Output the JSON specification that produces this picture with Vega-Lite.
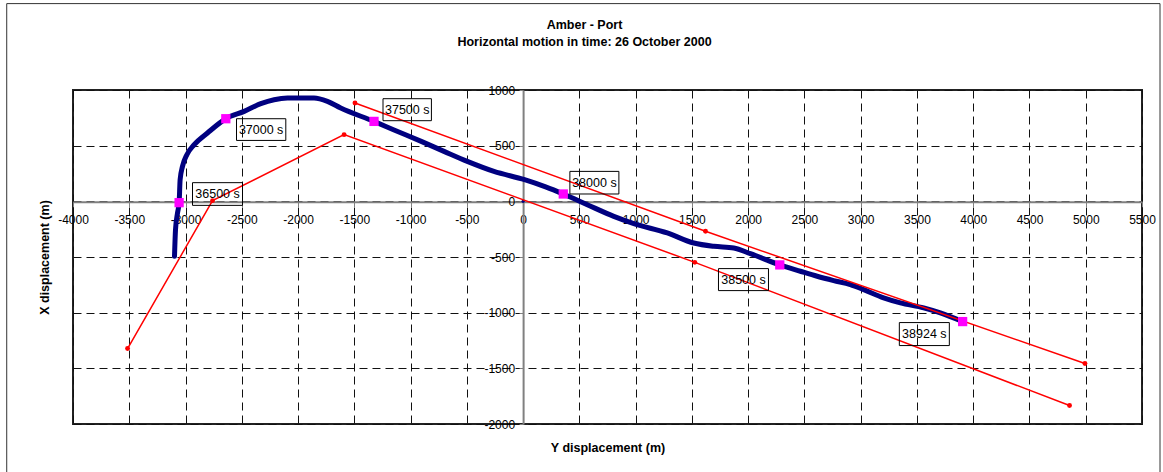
{
  "$schema": "https://vega.github.io/schema/vega-lite/v6.json",
  "width": 1069,
  "height": 334,
  "autosize": {"type": "none"},
  "padding": {"left": 73, "top": 90, "right": 21, "bottom": 48},
  "background": "white",
  "config": {
    "font": "Liberation Sans",
    "view": {"stroke": "#222", "strokeWidth": 2}
  },
  "title": {
    "text": ["Amber - Port", "Horizontal motion in time: 26 October 2000"],
    "font": "Liberation Sans",
    "fontSize": 12.5,
    "fontWeight": "bold",
    "color": "#000",
    "anchor": "middle",
    "frame": "group",
    "baseline": "bottom",
    "lineHeight": 16.5,
    "offset": -58,
    "dx": -23
  },
  "datasets": {
    "track": [
      {"i": 1, "x": -3098, "y": -494},
      {"i": 2, "x": -3089, "y": -254},
      {"i": 3, "x": -3071, "y": -104},
      {"i": 4, "x": -3057, "y": -14},
      {"i": 5, "x": -3048, "y": 195},
      {"i": 6, "x": -3027, "y": 314},
      {"i": 7, "x": -2988, "y": 419},
      {"i": 8, "x": -2923, "y": 509},
      {"i": 9, "x": -2805, "y": 614},
      {"i": 10, "x": -2642, "y": 742},
      {"i": 11, "x": -2479, "y": 808},
      {"i": 12, "x": -2331, "y": 877},
      {"i": 13, "x": -2213, "y": 913},
      {"i": 14, "x": -2094, "y": 928},
      {"i": 15, "x": -1858, "y": 928},
      {"i": 16, "x": -1739, "y": 898},
      {"i": 17, "x": -1621, "y": 838},
      {"i": 18, "x": -1325, "y": 718},
      {"i": 19, "x": -1147, "y": 641},
      {"i": 20, "x": -900, "y": 536},
      {"i": 21, "x": -703, "y": 449},
      {"i": 22, "x": -496, "y": 359},
      {"i": 23, "x": -259, "y": 269},
      {"i": 24, "x": 13, "y": 195},
      {"i": 25, "x": 200, "y": 130},
      {"i": 26, "x": 357, "y": 66},
      {"i": 27, "x": 570, "y": -30},
      {"i": 28, "x": 806, "y": -135},
      {"i": 29, "x": 984, "y": -200},
      {"i": 30, "x": 1281, "y": -284},
      {"i": 31, "x": 1517, "y": -374},
      {"i": 32, "x": 1695, "y": -404},
      {"i": 33, "x": 1872, "y": -419},
      {"i": 34, "x": 2020, "y": -470},
      {"i": 35, "x": 2281, "y": -571},
      {"i": 36, "x": 2464, "y": -628},
      {"i": 37, "x": 2613, "y": -673},
      {"i": 38, "x": 2760, "y": -712},
      {"i": 39, "x": 2908, "y": -748},
      {"i": 40, "x": 3027, "y": -793},
      {"i": 41, "x": 3204, "y": -867},
      {"i": 42, "x": 3353, "y": -912},
      {"i": 43, "x": 3560, "y": -957},
      {"i": 44, "x": 3708, "y": -1002},
      {"i": 45, "x": 3906, "y": -1080}
    ],
    "markers": [
      {"t": 36500, "label": "36500 s", "x": -3057, "y": -12},
      {"t": 37000, "label": "37000 s", "x": -2642, "y": 742},
      {"t": 37500, "label": "37500 s", "x": -1325, "y": 718},
      {"t": 38000, "label": "38000 s", "x": 357, "y": 66},
      {"t": 38500, "label": "38500 s", "x": 2281, "y": -571},
      {"t": 38924, "label": "38924 s", "x": 3906, "y": -1080}
    ],
    "red": [
      {"s": "A", "i": 1, "x": -3515, "y": -1322},
      {"s": "A", "i": 2, "x": -2760, "y": 6},
      {"s": "A", "i": 3, "x": -1591, "y": 599},
      {"s": "A", "i": 4, "x": 1526, "y": -548},
      {"s": "A", "i": 5, "x": 4856, "y": -1834},
      {"s": "B", "i": 1, "x": -1494, "y": 883},
      {"s": "B", "i": 2, "x": 1621, "y": -269},
      {"s": "B", "i": 3, "x": 4993, "y": -1457}
    ],
    "origin": [{"x": 0, "y": 0}]
  },
  "layer": [
    {
      "data": {"values": [{}]},
      "mark": {"type": "rect", "fill": "transparent", "stroke": "#333", "strokeWidth": 1, "clip": false},
      "encoding": {
        "x": {"datum": -4589, "type": "quantitative"},
        "x2": {"datum": 5660},
        "y": {"datum": 1776, "type": "quantitative"},
        "y2": {"datum": -2600}
      }
    },
    {
      "encoding": {
        "x": {
          "field": "x",
          "type": "quantitative",
          "scale": {"domain": [-4000, 5500], "nice": false, "zero": false},
          "axis": {
            "orient": "bottom",
            "offset": -222.3,
            "values": [-4000, -3500, -3000, -2500, -2000, -1500, -1000, -500, 0, 500, 1000, 1500, 2000, 2500, 3000, 3500, 4000, 4500, 5000, 5500],
            "labelExpr": "'' + datum.value",
            "grid": true,
            "gridDash": [8, 5],
            "gridColor": "#111",
            "gridWidth": 1,
            "domainColor": "#808080",
            "domainWidth": 2,
            "tickColor": "#808080",
            "tickSize": 5,
            "tickWidth": 1,
            "labelFont": "Liberation Sans",
            "labelFontSize": 12,
            "labelColor": "#000",
            "labelPadding": 8,
            "labelOverlap": false,
            "labelBound": false,
            "labelFlush": false,
            "title": "Y displacement (m)",
            "titleFont": "Liberation Sans",
            "titleFontSize": 12.5,
            "titleFontWeight": "bold",
            "titleColor": "#000",
            "titleBaseline": "middle",
            "titleY": 245.3
          }
        },
        "y": {
          "field": "y",
          "type": "quantitative",
          "scale": {"domain": [-2000, 1000], "nice": false, "zero": false},
          "axis": {
            "orient": "left",
            "offset": -450.1,
            "values": [-2000, -1500, -1000, -500, 0, 500, 1000],
            "labelExpr": "'' + datum.value",
            "grid": true,
            "gridDash": [8, 5],
            "gridColor": "#111",
            "gridWidth": 1,
            "domainColor": "#808080",
            "domainWidth": 2,
            "tickColor": "#808080",
            "tickSize": 4,
            "tickWidth": 1,
            "labelFont": "Liberation Sans",
            "labelFontSize": 12,
            "labelColor": "#000",
            "labelPadding": 4.5,
            "labelOverlap": false,
            "labelBound": false,
            "labelFlush": false,
            "title": "X displacement (m)",
            "titleFont": "Liberation Sans",
            "titleFontSize": 12.5,
            "titleFontWeight": "bold",
            "titleColor": "#000",
            "titleBaseline": "middle",
            "titleX": -479,
            "titleY": 167
          }
        }
      },
      "layer": [
        {
          "data": {"name": "track"},
          "mark": {"type": "line", "color": "#000080", "strokeWidth": 5, "strokeJoin": "round", "strokeCap": "round", "interpolate": "monotone"},
          "encoding": {"order": {"field": "i", "type": "quantitative"}}
        },
        {
          "data": {"name": "origin"},
          "mark": {"type": "point", "filled": true, "color": "#000080", "size": 10, "opacity": 1}
        },
        {
          "data": {"name": "red"},
          "mark": {"type": "line", "color": "#FF0000", "strokeWidth": 1.5},
          "encoding": {
            "detail": {"field": "s", "type": "nominal"},
            "order": {"field": "i", "type": "quantitative"}
          }
        },
        {
          "data": {"name": "red"},
          "mark": {"type": "point", "shape": "circle", "filled": true, "color": "#FF0000", "size": 24, "opacity": 1}
        },
        {
          "data": {"name": "markers"},
          "mark": {"type": "point", "shape": "square", "filled": true, "color": "#FF00FF", "size": 86, "opacity": 1}
        },
        {
          "data": {"name": "markers"},
          "mark": {"type": "point", "filled": false, "stroke": "#000", "strokeWidth": 1, "size": 4, "opacity": 1},
          "encoding": {
            "shape": {
              "field": "label",
              "type": "nominal",
              "legend": null,
              "scale": {
                "domain": ["36500 s", "37000 s", "37500 s", "38000 s", "38500 s", "38924 s"],
                "range": [
                  "M13.4,-20H63.4V2.7H13.4Z",
                  "M10.7,0H60V21.7H10.7Z",
                  "M9,-22.7H57.4V-0.7H9Z",
                  "M6.6,-22.6H55.6V0H6.6Z",
                  "M-61.3,3.7H-11.3V25.7H-61.3Z",
                  "M-63.3,1H-13.3V24H-63.3Z"
                ]
              }
            }
          }
        },
        {
          "data": {"name": "markers"},
          "transform": [{"filter": "datum.t == 36500"}],
          "mark": {"type": "text", "font": "Liberation Sans", "fontSize": 12.5, "color": "#000", "align": "center", "baseline": "middle", "dx": 38.4, "dy": -8.6},
          "encoding": {"text": {"field": "label"}}
        },
        {
          "data": {"name": "markers"},
          "transform": [{"filter": "datum.t == 37000"}],
          "mark": {"type": "text", "font": "Liberation Sans", "fontSize": 12.5, "color": "#000", "align": "center", "baseline": "middle", "dx": 35.3, "dy": 10.8},
          "encoding": {"text": {"field": "label"}}
        },
        {
          "data": {"name": "markers"},
          "transform": [{"filter": "datum.t == 37500"}],
          "mark": {"type": "text", "font": "Liberation Sans", "fontSize": 12.5, "color": "#000", "align": "center", "baseline": "middle", "dx": 33.2, "dy": -11.7},
          "encoding": {"text": {"field": "label"}}
        },
        {
          "data": {"name": "markers"},
          "transform": [{"filter": "datum.t == 38000"}],
          "mark": {"type": "text", "font": "Liberation Sans", "fontSize": 12.5, "color": "#000", "align": "center", "baseline": "middle", "dx": 31.1, "dy": -11.3},
          "encoding": {"text": {"field": "label"}}
        },
        {
          "data": {"name": "markers"},
          "transform": [{"filter": "datum.t == 38500"}],
          "mark": {"type": "text", "font": "Liberation Sans", "fontSize": 12.5, "color": "#000", "align": "center", "baseline": "middle", "dx": -36.3, "dy": 14.7},
          "encoding": {"text": {"field": "label"}}
        },
        {
          "data": {"name": "markers"},
          "transform": [{"filter": "datum.t == 38924"}],
          "mark": {"type": "text", "font": "Liberation Sans", "fontSize": 12.5, "color": "#000", "align": "center", "baseline": "middle", "dx": -38.3, "dy": 12.5},
          "encoding": {"text": {"field": "label"}}
        }
      ]
    }
  ]
}
